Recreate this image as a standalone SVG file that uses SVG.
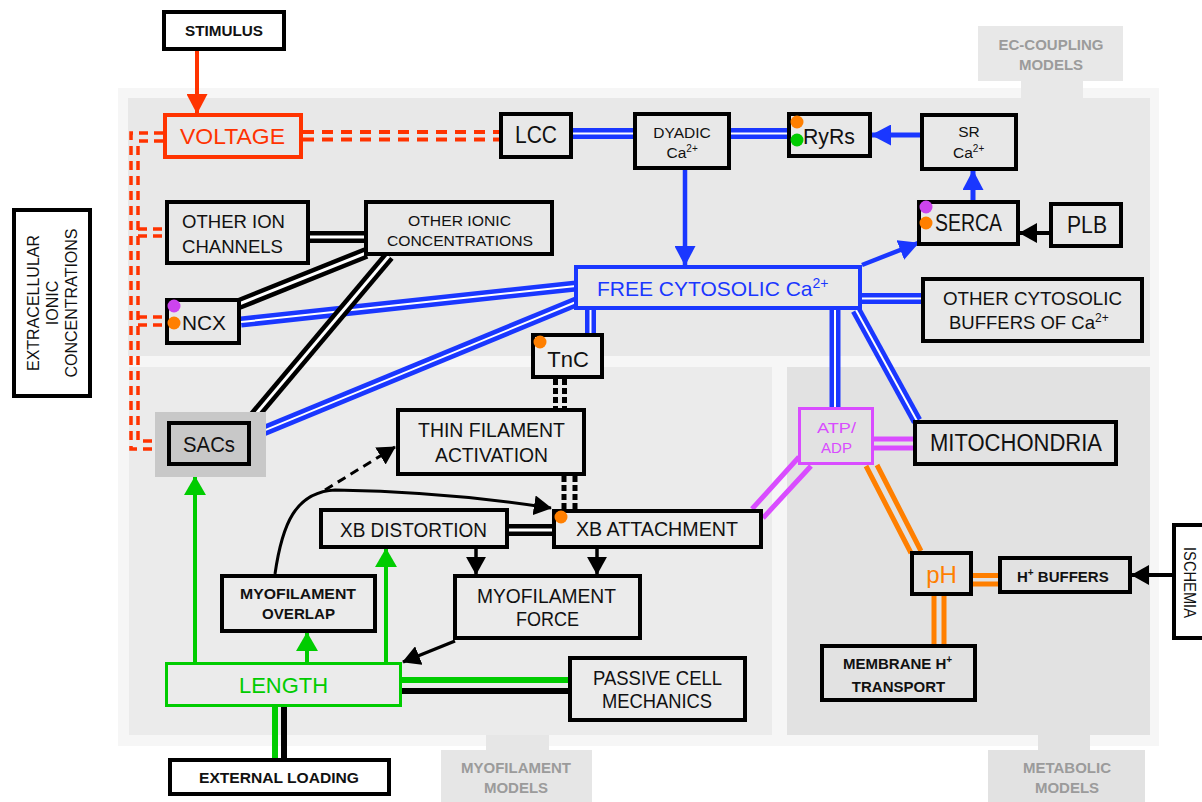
<svg xmlns="http://www.w3.org/2000/svg" xmlns:xlink="http://www.w3.org/1999/xlink" width="1202" height="802" viewBox="0 0 1202 802">
<style>
.t{font-family:"Liberation Sans",Arial,sans-serif;fill:#111}
.b{font-weight:bold}
.lbl{font-family:"Liberation Sans",Arial,sans-serif;font-weight:bold;font-size:15px;fill:#9b9b9b;text-anchor:middle}
.m{text-anchor:middle}
.nb{stroke:#000;stroke-width:4}
.ft{fill:#e8e8e8}.fm{fill:#ebebeb}.fx{fill:#e2e2e2}.fw{fill:#fff}
.blue11{fill:none;stroke:#1a37ff;stroke-width:11}
.blk12{fill:none;stroke:#000;stroke-width:12}
.gap2{fill:none;stroke:#fff;stroke-width:2}
.gap3{fill:none;stroke:#fff;stroke-width:3}
.red{fill:none;stroke:#ff3300;stroke-width:4;stroke-dasharray:11 8}
.redv{fill:none;stroke:#ff3300;stroke-width:3.5;stroke-dasharray:9 6}
.ln{fill:none;stroke-linecap:butt}
.dot{fill:none;stroke:#000;stroke-width:5;stroke-dasharray:6 3}
</style>
<defs>
<marker id="ab" viewBox="0 0 20 20" refX="19" refY="10" markerUnits="userSpaceOnUse" markerWidth="20" markerHeight="21" orient="auto" preserveAspectRatio="none"><path d="M0,0L20,10L0,20z" fill="#1a37ff"/></marker>
<marker id="ak" viewBox="0 0 20 20" refX="19" refY="10" markerUnits="userSpaceOnUse" markerWidth="18" markerHeight="20" orient="auto" preserveAspectRatio="none"><path d="M0,0L20,10L0,20z" fill="#000"/></marker>
<marker id="ag" viewBox="0 0 20 20" refX="19" refY="10" markerUnits="userSpaceOnUse" markerWidth="19" markerHeight="22" orient="auto" preserveAspectRatio="none"><path d="M0,0L20,10L0,20z" fill="#00cc00"/></marker>
<marker id="ar" viewBox="0 0 20 20" refX="19" refY="10" markerUnits="userSpaceOnUse" markerWidth="20" markerHeight="21" orient="auto" preserveAspectRatio="none"><path d="M0,0L20,10L0,20z" fill="#ff3300"/></marker>
<path id="p-lcc-dy" d="M573,133.5H633"/>
<path id="p-dy-ryr" d="M731,133.5H787"/>
<path id="p-fr-ob" d="M862,298.5H921"/>
<path id="p-fr-ncx" d="M576,286L241,322"/>
<path id="p-fr-sac" d="M576,302L251,436"/>
<path id="p-fr-tnc" d="M590.5,310V333"/>
<path id="p-fr-atp" d="M835,310V407"/>
<path id="p-fr-mito" d="M856,310L917,421"/>
<path id="p-oic" d="M310,237H364"/>
<path id="p-oic-ncx" d="M366,253L239,304"/>
<path id="p-oic-sac" d="M389,256L250,421"/>
<path id="p-xb" d="M509,530H552"/>
</defs>

<g id="regions">
<rect x="118" y="88" width="1041" height="658" fill="#f6f6f6"/>
<rect x="128" y="98" width="1022" height="258" fill="#e8e8e8"/>
<rect x="129" y="367" width="643" height="368" fill="#ebebeb"/>
<rect x="787" y="367" width="363" height="368" fill="#e2e2e2"/>
<rect x="1021" y="80" width="62" height="19" fill="#e8e8e8"/>
<rect x="978" y="26" width="145" height="55" fill="#e8e8e8"/>
<text class="lbl" x="1051" y="50">EC-COUPLING</text>
<text class="lbl" x="1051" y="70">MODELS</text>
<rect x="486" y="735" width="63" height="16" fill="#e6e6e6"/>
<rect x="441" y="750" width="151" height="52" fill="#e6e6e6"/>
<text class="lbl" x="516" y="773">MYOFILAMENT</text>
<text class="lbl" x="516" y="793">MODELS</text>
<rect x="1038" y="735" width="52" height="16" fill="#e2e2e2"/>
<rect x="988" y="750" width="157" height="52" fill="#e2e2e2"/>
<text class="lbl" x="1067" y="773">METABOLIC</text>
<text class="lbl" x="1067" y="793">MODELS</text>
</g>

<g id="connectors">
<!-- red -->
<path class="ln" d="M197,51V113" stroke="#ff3300" stroke-width="4" marker-end="url(#ar)"/>
<path class="red" d="M303,132H499"/>
<path class="red" d="M303,139.5H499"/>
<path class="redv" d="M163,133H131V449H167"/>
<path class="redv" d="M163,141H138V441H167"/>
<path class="redv" d="M138,229H167M138,236H167"/>
<path class="redv" d="M138,317H167M138,325H167"/>
<!-- blue -->
<use xlink:href="#p-lcc-dy" class="blue11"/><use xlink:href="#p-lcc-dy" class="gap2"/>
<use xlink:href="#p-dy-ryr" class="blue11"/><use xlink:href="#p-dy-ryr" class="gap2"/>
<use xlink:href="#p-fr-ob" class="blue11"/><use xlink:href="#p-fr-ob" class="gap2"/>
<use xlink:href="#p-fr-ncx" class="blue11"/><use xlink:href="#p-fr-ncx" class="gap2"/>
<use xlink:href="#p-fr-sac" class="blue11"/><use xlink:href="#p-fr-sac" class="gap2"/>
<use xlink:href="#p-fr-tnc" class="blue11"/><use xlink:href="#p-fr-tnc" class="gap2"/>
<use xlink:href="#p-fr-atp" class="blue11"/><use xlink:href="#p-fr-atp" class="gap2"/>
<use xlink:href="#p-fr-mito" class="blue11"/><use xlink:href="#p-fr-mito" class="gap2"/>
<path class="ln" d="M920,135H872" stroke="#1a37ff" stroke-width="5" marker-end="url(#ab)"/>
<path class="ln" d="M973,201V171" stroke="#1a37ff" stroke-width="5" marker-end="url(#ab)"/>
<path class="ln" d="M685,170V265" stroke="#1a37ff" stroke-width="4.5" marker-end="url(#ab)"/>
<path class="ln" d="M862,265L918,243" stroke="#1a37ff" stroke-width="4.5" marker-end="url(#ab)"/>
<!-- black -->
<use xlink:href="#p-oic" class="blk12"/><use xlink:href="#p-oic" class="gap3"/>
<use xlink:href="#p-oic-ncx" class="blk12"/><use xlink:href="#p-oic-ncx" class="gap3"/>
<use xlink:href="#p-oic-sac" class="blk12"/><use xlink:href="#p-oic-sac" class="gap3"/>
<use xlink:href="#p-xb" class="blk12"/><use xlink:href="#p-xb" class="gap3"/>
<path class="dot" d="M555.5,379V408M564.5,379V408"/>
<path class="dot" d="M564,476V509M575,476V509"/>
<path class="ln" d="M1049,233H1020" stroke="#000" stroke-width="4" marker-end="url(#ak)"/>
<path class="ln" d="M476,549V574" stroke="#000" stroke-width="3.5" marker-end="url(#ak)"/>
<path class="ln" d="M597,549V574" stroke="#000" stroke-width="3.5" marker-end="url(#ak)"/>
<path class="ln" d="M455,641L403,662" stroke="#000" stroke-width="3.5" marker-end="url(#ak)"/>
<path class="ln" d="M275,574C282,525 295,492 335,490Q450,492 551,508" stroke="#000" stroke-width="3" marker-end="url(#ak)"/>
<path class="ln" d="M325,490L395,447" stroke="#000" stroke-width="3" stroke-dasharray="9 6" marker-end="url(#ak)"/>
<path class="ln" d="M1172,575H1132" stroke="#000" stroke-width="4" marker-end="url(#ak)"/>
<!-- green -->
<path class="ln" d="M195,662V477" stroke="#00cc00" stroke-width="4" marker-end="url(#ag)"/>
<path class="ln" d="M307,662V633" stroke="#00cc00" stroke-width="4" marker-end="url(#ag)"/>
<path class="ln" d="M386,662V549" stroke="#00cc00" stroke-width="4" marker-end="url(#ag)"/>
<path class="ln" d="M402,680H568" stroke="#00cc00" stroke-width="6"/>
<path class="ln" d="M402,691H568" stroke="#000" stroke-width="6"/>
<path class="ln" d="M275,707V758" stroke="#00cc00" stroke-width="6"/>
<path class="ln" d="M284,707V758" stroke="#000" stroke-width="6"/>
<!-- magenta -->
<path class="ln" d="M752,509L799,457M763,518L811,466" stroke="#d94cff" stroke-width="5"/>
<path class="ln" d="M874,439H913M874,448H913" stroke="#d94cff" stroke-width="5"/>
<!-- orange -->
<path class="ln" d="M866,466L911,553M877,465L921,551" stroke="#ff7f00" stroke-width="5"/>
<path class="ln" d="M973,575.5H998M973,584H998" stroke="#ff7f00" stroke-width="5"/>
<path class="ln" d="M934,596V644M944,596V644" stroke="#ff7f00" stroke-width="5"/>
</g>

<g id="stimulus"><rect class="nb fw" x="164" y="12" width="120" height="37"/><text class="t b m" x="224" y="36" font-size="15" textLength="78" lengthAdjust="spacingAndGlyphs">STIMULUS</text></g>
<g id="voltage"><rect x="165" y="115" width="136" height="42" fill="#e8e8e8" stroke="#ff3300" stroke-width="4"/><text class="t m" x="232.5" y="144" font-size="22" fill="#ff3300" style="fill:#ff3300" textLength="105" lengthAdjust="spacingAndGlyphs">VOLTAGE</text></g>
<g id="lcc"><rect class="nb ft" x="501" y="114" width="70" height="43"/><text class="t m" x="536" y="143" font-size="23" textLength="42" lengthAdjust="spacingAndGlyphs">LCC</text></g>
<g id="dyadic"><rect class="nb ft" x="635" y="114" width="94" height="54"/><text class="t m" x="682" y="138" font-size="15.5">DYADIC</text><text class="t" x="666.5" y="158" font-size="15.5">Ca<tspan font-size="10" dy="-6">2+</tspan></text></g>
<g id="ryrs"><rect class="nb ft" x="789" y="114" width="81" height="42"/><circle cx="797" cy="122" r="6.5" fill="#ff7f00"/><circle cx="797" cy="140" r="6.5" fill="#00cc00"/><text class="t m" x="829" y="144" font-size="22" textLength="52" lengthAdjust="spacingAndGlyphs">RyRs</text></g>
<g id="sr"><rect class="nb ft" x="922" y="115" width="94" height="54"/><text class="t m" x="969" y="137" font-size="15.5">SR</text><text class="t" x="953" y="158" font-size="15.5">Ca<tspan font-size="10" dy="-6">2+</tspan></text></g>
<g id="serca"><rect class="nb ft" x="919" y="202" width="99" height="42"/><circle cx="926" cy="207" r="6.5" fill="#cc44ee"/><circle cx="926" cy="223" r="6.5" fill="#ff7f00"/><text class="t m" x="968.5" y="231" font-size="23" textLength="67" lengthAdjust="spacingAndGlyphs">SERCA</text></g>
<g id="plb"><rect class="nb ft" x="1051" y="204" width="70" height="42"/><text class="t m" x="1087" y="233" font-size="23" textLength="40" lengthAdjust="spacingAndGlyphs">PLB</text></g>
<g id="other-ion-channels"><rect class="nb ft" x="167" y="202" width="141" height="61"/><text class="t m" x="233.5" y="228" font-size="19" textLength="103" lengthAdjust="spacingAndGlyphs">OTHER ION</text><text class="t m" x="232.5" y="253" font-size="19" textLength="101" lengthAdjust="spacingAndGlyphs">CHANNELS</text></g>
<g id="other-ionic-conc"><rect class="nb ft" x="366" y="202" width="186" height="52"/><text class="t m" x="459.5" y="226" font-size="15" textLength="103" lengthAdjust="spacingAndGlyphs">OTHER IONIC</text><text class="t m" x="460" y="246" font-size="15" textLength="146" lengthAdjust="spacingAndGlyphs">CONCENTRATIONS</text></g>
<g id="ncx"><rect class="nb ft" x="167" y="300" width="72" height="43"/><circle cx="174" cy="306" r="6.5" fill="#cc44ee"/><circle cx="174" cy="323" r="6.5" fill="#ff7f00"/><text class="t m" x="204" y="330" font-size="21" textLength="44" lengthAdjust="spacingAndGlyphs">NCX</text></g>
<g id="free-cytosolic-ca"><rect x="576" y="267" width="284" height="41" fill="#e8e8e8" stroke="#1a37ff" stroke-width="4"/><text class="t" x="597" y="296" font-size="21" style="fill:#1a37ff">FREE CYTOSOLIC Ca<tspan font-size="14" dy="-8">2+</tspan></text></g>
<g id="other-cytosolic-buffers"><rect class="nb ft" x="923" y="279" width="219" height="62"/><text class="t m" x="1032.5" y="305" font-size="18.5" textLength="179" lengthAdjust="spacingAndGlyphs">OTHER CYTOSOLIC</text><text class="t" x="949" y="329" font-size="18.5">BUFFERS OF Ca<tspan font-size="12" dy="-7">2+</tspan></text></g>
<g id="tnc"><rect class="nb fw" x="533" y="335" width="69" height="42" style="fill:#ececec"/><circle cx="540" cy="342" r="6.5" fill="#ff7f00"/><text class="t m" x="568" y="367" font-size="22">TnC</text></g>
<g id="sacs"><rect x="155" y="412" width="111" height="65" fill="#c8c8c8"/><rect class="nb" x="169" y="423" width="80" height="41" fill="#c8c8c8"/><text class="t m" x="209" y="452" font-size="22" textLength="52" lengthAdjust="spacingAndGlyphs">SACs</text></g>
<g id="thin-filament"><rect class="nb fm" x="398" y="410" width="186" height="64"/><text class="t m" x="491.5" y="437" font-size="20" textLength="147" lengthAdjust="spacingAndGlyphs">THIN FILAMENT</text><text class="t m" x="491.5" y="462" font-size="20" textLength="113" lengthAdjust="spacingAndGlyphs">ACTIVATION</text></g>
<g id="xb-distortion"><rect class="nb fm" x="321" y="510" width="186" height="37"/><text class="t m" x="413.5" y="537" font-size="20" textLength="147" lengthAdjust="spacingAndGlyphs">XB DISTORTION</text></g>
<g id="xb-attachment"><rect class="nb fm" x="554" y="511" width="207" height="36"/><circle cx="561" cy="517" r="6.5" fill="#ff7f00"/><text class="t m" x="657" y="536" font-size="20" textLength="162" lengthAdjust="spacingAndGlyphs">XB ATTACHMENT</text></g>
<g id="myofilament-force"><rect class="nb fm" x="455" y="576" width="185" height="62"/><text class="t m" x="546.5" y="603" font-size="20" textLength="139" lengthAdjust="spacingAndGlyphs">MYOFILAMENT</text><text class="t m" x="547.5" y="626" font-size="20" textLength="63" lengthAdjust="spacingAndGlyphs">FORCE</text></g>
<g id="myofilament-overlap"><rect class="nb fm" x="222" y="576" width="153" height="55"/><text class="t b m" x="298" y="599" font-size="15" textLength="116" lengthAdjust="spacingAndGlyphs">MYOFILAMENT</text><text class="t b m" x="298.5" y="619" font-size="15" textLength="73" lengthAdjust="spacingAndGlyphs">OVERLAP</text></g>
<g id="length"><rect x="166.5" y="663.5" width="234" height="42" fill="#ebebeb" stroke="#00cc00" stroke-width="3"/><text class="t m" x="283.5" y="693" font-size="22" style="fill:#00cc00" textLength="89" lengthAdjust="spacingAndGlyphs">LENGTH</text></g>
<g id="passive-cell-mechanics"><rect class="nb fm" x="570" y="658" width="175" height="62"/><text class="t m" x="657.5" y="685" font-size="20" textLength="129" lengthAdjust="spacingAndGlyphs">PASSIVE CELL</text><text class="t m" x="657" y="708" font-size="20" textLength="110" lengthAdjust="spacingAndGlyphs">MECHANICS</text></g>
<g id="external-loading"><rect class="nb fw" x="170" y="760" width="219" height="34"/><text class="t b m" x="279" y="783" font-size="15" textLength="160" lengthAdjust="spacingAndGlyphs">EXTERNAL LOADING</text></g>
<g id="atp-adp"><rect x="799.5" y="408.5" width="73" height="55" fill="#e2e2e2" stroke="#d94cff" stroke-width="3"/><text class="t m" x="836.5" y="433" font-size="15" style="fill:#d94cff" textLength="39" lengthAdjust="spacingAndGlyphs">ATP/</text><text class="t m" x="836.5" y="453" font-size="15" style="fill:#d94cff" textLength="31" lengthAdjust="spacingAndGlyphs">ADP</text></g>
<g id="mitochondria"><rect class="nb fx" x="915" y="422" width="201" height="42"/><text class="t m" x="1016" y="451" font-size="23" textLength="172" lengthAdjust="spacingAndGlyphs">MITOCHONDRIA</text></g>
<g id="ph"><rect class="nb fx" x="912" y="553" width="59" height="41"/><text class="t m" x="941.5" y="583" font-size="24" style="fill:#ff7f00">pH</text></g>
<g id="h-buffers"><rect class="nb fx" x="1000" y="558" width="130" height="34"/><text class="t b" x="1017" y="582" font-size="15">H<tspan font-size="10" dy="-6">+</tspan><tspan dy="6"> BUFFERS</tspan></text></g>
<g id="membrane-h-transport"><rect class="nb fx" x="822" y="646" width="153" height="54"/><text class="t b" x="843" y="669" font-size="15">MEMBRANE H<tspan font-size="10" dy="-6">+</tspan></text><text class="t b m" x="898.5" y="692" font-size="15">TRANSPORT</text></g>
<g id="ischemia"><rect class="nb fw" x="1174" y="525" width="40" height="113"/><text class="t m" transform="translate(1184,582.5) rotate(90)" font-size="16" textLength="71" lengthAdjust="spacingAndGlyphs">ISCHEMIA</text></g>
<g id="extracellular"><rect class="nb fw" x="14" y="210" width="76" height="186"/><text class="t m" transform="translate(39,303) rotate(-90)" font-size="16">EXTRACELLULAR</text><text class="t m" transform="translate(58,303) rotate(-90)" font-size="16">IONIC</text><text class="t m" transform="translate(77,303) rotate(-90)" font-size="16">CONCENTRATIONS</text></g>
</svg>
